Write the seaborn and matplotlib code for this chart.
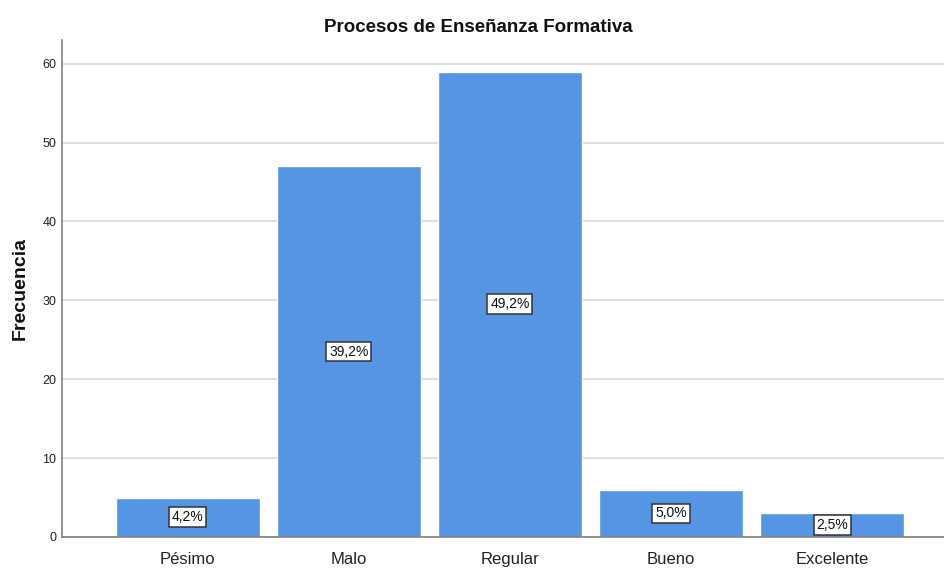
import pandas as pd
import matplotlib.pyplot as plt
import seaborn as sns

categorias = ['Pésimo', 'Malo', 'Regular', 'Bueno', 'Excelente']
frecuencias = [5, 47, 59, 6, 3]
porcentajes = ['4,2%', '39,2%', '49,2%', '5,0%', '2,5%']

df = pd.DataFrame({'categoria': categorias, 'frecuencia': frecuencias})

sns.set_style('white')
plt.rcParams['font.family'] = ['Liberation Sans', 'DejaVu Sans']

fig = plt.figure(figsize=(9.45, 5.68), dpi=100)
ax = fig.add_axes([0.0656, 0.0546, 0.9344, 0.875])

sns.barplot(data=df, x='categoria', y='frecuencia', color='#5595e3',
            saturation=1, width=0.895, ax=ax, zorder=2)

for i, (v, p) in enumerate(zip(frecuencias, porcentajes)):
    ax.text(i, v / 2, p, ha='center', va='center', fontsize=10, color='#111111', zorder=3,
            bbox=dict(boxstyle='square,pad=0.2', fc='white', ec='#333333', lw=1.1))

ax.set_xlim(-0.78, 4.70)
ax.set_ylim(0, 63)
ax.set_yticks([0, 10, 20, 30, 40, 50, 60])
ax.yaxis.grid(True, color='#d9d9d9', lw=1.2, zorder=0)
ax.set_axisbelow(True)

for s in ['top', 'right']:
    ax.spines[s].set_visible(False)
for s in ['left', 'bottom']:
    ax.spines[s].set_color('#808080')
    ax.spines[s].set_linewidth(1.2)

ax.tick_params(axis='y', length=0, labelsize=9, pad=4, labelcolor='#222222')
ax.tick_params(axis='x', length=0, labelsize=12, pad=11, labelcolor='#222222')

ax.set_xlabel('')
ax.set_ylabel('Frecuencia', fontsize=14, fontweight='bold', labelpad=10, color='#111111')
fig.text(0.506, 0.952, 'Procesos de Enseñanza Formativa', fontsize=13.5,
         fontweight='bold', ha='center', va='center', color='#111111')

plt.savefig('out.png', dpi=100)
